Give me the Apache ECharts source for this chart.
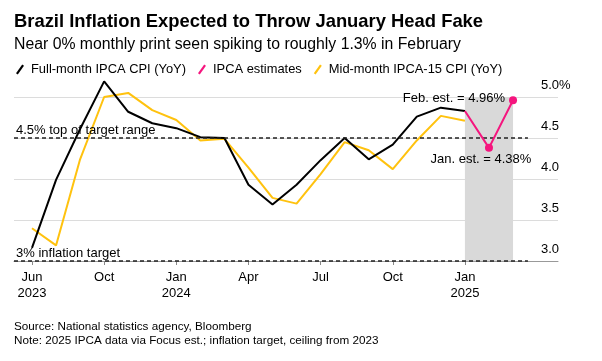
<!DOCTYPE html>
<html><head><meta charset="utf-8">
<script src="https://cdn.jsdelivr.net/npm/echarts@6/dist/echarts.min.js"></script>
<style>html,body{margin:0;padding:0;background:#fff}#c{width:602px;height:361px}</style>
</head><body><div id="c"></div>
<script>
// Data months (index 0 = Jun 2023)
const months = ['Jun 2023','Jul 2023','Aug 2023','Sep 2023','Oct 2023','Nov 2023','Dec 2023',
  'Jan 2024','Feb 2024','Mar 2024','Apr 2024','May 2024','Jun 2024','Jul 2024','Aug 2024','Sep 2024',
  'Oct 2024','Nov 2024','Dec 2024','Jan 2025','Feb 2025'];
const ipca   = [3.16,3.99,4.61,5.19,4.82,4.68,4.62,4.51,4.50,3.93,3.69,3.93,4.23,4.50,4.24,4.42,4.76,4.87,4.83];
const ipca15 = [3.40,3.19,4.24,5.00,5.05,4.84,4.72,4.47,4.49,4.14,3.77,3.70,4.06,4.45,4.35,4.12,4.47,4.77,4.71];
const estMonths = ['Dec 2024','Jan 2025','Feb 2025'];
const estValues = [4.83,4.38,4.96];
const estLabels = [null,'Jan. est.','Feb. est.'];
const tickMonths = ['Jun 2023','Sep 2023','Dec 2023','Mar 2024','Jun 2024','Sep 2024','Dec 2024'];
const tickLabels = ['Jun\n2023','Oct','Jan\n2024','Apr','Jul','Oct','Jan\n2025'];
const refLines = [4.5, 3.0];
const refLabels = ['4.5% top of target range','3% inflation target'];
const shadeMonths = ['Dec 2024','Feb 2025'];

const FONT = 'Liberation Sans, Arial, sans-serif';
const idx = m => months.indexOf(m);
const tickIdx = tickMonths.map(idx);
const X_MIN = -0.748, X_MAX = 21.87, X_DASH_END = 20.62;
const Y_SHADE_TOP = 5.07;

const chart = echarts.init(document.getElementById('c'));
chart.setOption({
  animation: false,
  backgroundColor: '#fff',
  textStyle: { fontFamily: FONT },
  title: [
    { text: 'Brazil Inflation Expected to Throw January Head Fake', left: 14, top: 12.5, padding: 0,
      textStyle: { fontSize: 18.4, fontWeight: 'bold', color: '#000', fontFamily: FONT } },
    { text: 'Near 0% monthly print seen spiking to roughly 1.3% in February', left: 14, top: 37, padding: 0,
      textStyle: { fontSize: 15.8, fontWeight: 'normal', color: '#000', fontFamily: FONT } },
    { text: 'Source: National statistics agency, Bloomberg', left: 14, top: 321, padding: 0,
      textStyle: { fontSize: 11.7, fontWeight: 'normal', color: '#000', fontFamily: FONT } },
    { text: 'Note: 2025 IPCA data via Focus est.; inflation target, ceiling from 2023', left: 14, top: 335, padding: 0,
      textStyle: { fontSize: 11.7, fontWeight: 'normal', color: '#000', fontFamily: FONT } }
  ],
  legend: {
    left: 16, top: 63, padding: 0, itemGap: 12, itemWidth: 8, itemHeight: 11,
    selectedMode: false,
    icon: 'path://M7,0 L9,1.2 L2,11 L0,9.8 Z',
    textStyle: { fontSize: 12.9, color: '#000', fontFamily: FONT, padding: [0,0,0,2] },
    data: ['Full-month IPCA CPI (YoY)', 'IPCA estimates', 'Mid-month IPCA-15 CPI (YoY)']
  },
  grid: { left: 14, right: 44, top: 97, bottom: 100, containLabel: false },
  xAxis: {
    type: 'value', min: X_MIN, max: X_MAX,
    splitLine: { show: false },
    axisLine: { show: true, lineStyle: { color: '#999', width: 1 } },
    axisTick: { show: true, customValues: tickIdx, length: 4, lineStyle: { color: '#888' } },
    axisLabel: { customValues: tickIdx, margin: 8, fontSize: 13, lineHeight: 16, color: '#000',
      formatter: v => { const k = tickIdx.indexOf(Math.round(v)); return k >= 0 ? tickLabels[k] : ''; } }
  },
  yAxis: {
    type: 'value', position: 'right', min: 3, max: 5, interval: 0.5,
    axisLine: { show: false }, axisTick: { show: false },
    splitLine: { show: true, lineStyle: { color: '#dcdcdc', width: 1 } },
    axisLabel: { margin: -17, align: 'left', verticalAlign: 'bottom', padding: [0,0,5,0],
      fontSize: 13, color: '#000',
      formatter: v => v === 5 ? v.toFixed(1) + '%' : v.toFixed(1) }
  },
  series: [
    { type: 'line', name: '_shade', data: [], z: 1, silent: true,
      markArea: { silent: true, itemStyle: { color: '#d9d9d9' },
        data: [[{ coord: [idx(shadeMonths[0]), 3] }, { coord: [idx(shadeMonths[1]), Y_SHADE_TOP] }]] } },
    { type: 'line', name: '_ref', data: [], z: 2, silent: true,
      markLine: { silent: true, symbol: ['none','none'],
        lineStyle: { type: [4,3], color: '#222', width: 1.5 },
        label: { show: true, position: 'insideStartTop', distance: [2, 1], fontSize: 13, color: '#000', fontFamily: FONT },
        data: refLines.map((v, i) => [
          { coord: [X_MIN, v], label: { formatter: refLabels[i] } },
          { coord: [X_DASH_END, v] }
        ]) } },
    { type: 'line', name: 'Mid-month IPCA-15 CPI (YoY)', z: 3, clip: false, showSymbol: false, symbol: 'none',
      color: '#ffc20e', lineStyle: { color: '#ffc20e', width: 2 },
      data: ipca15.map((v, i) => [i, v]) },
    { type: 'line', name: 'Full-month IPCA CPI (YoY)', z: 4, clip: false, showSymbol: false, symbol: 'none',
      color: '#000', lineStyle: { color: '#000', width: 2 },
      data: ipca.map((v, i) => [i, v]) },
    { type: 'line', name: 'IPCA estimates', z: 5, clip: false, symbol: 'circle', symbolSize: 8,
      color: '#f5157e', lineStyle: { color: '#f5157e', width: 2 }, itemStyle: { color: '#f5157e' },
      data: estValues.map((v, i) => {
        const item = { value: [idx(estMonths[i]), v] };
        if (!estLabels[i]) { item.symbol = 'none'; return item; }
        const txt = estLabels[i] + ' = ' + v.toFixed(2) + '%';
        item.label = (i === 1)
          ? { show: true, formatter: txt, position: 'bottom', distance: 1, offset: [-8, 0], fontSize: 13, color: '#000', fontFamily: FONT }
          : { show: true, formatter: txt, position: 'left', distance: 4, offset: [0, -2], fontSize: 13, color: '#000', fontFamily: FONT };
        return item;
      }) }
  ]
});
</script></body></html>
